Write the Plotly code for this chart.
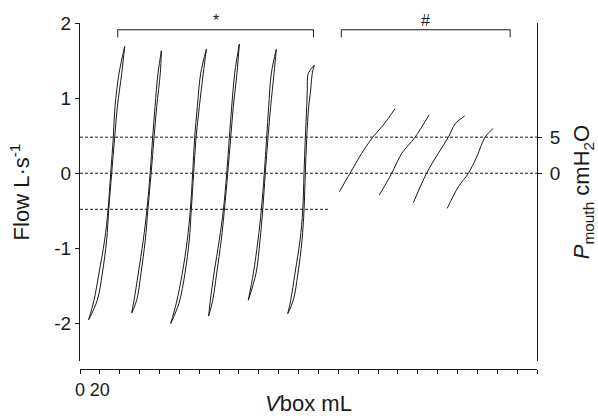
import plotly.graph_objects as go

# ---- data ----
# Flow-volume loops (Vbox mL, Flow L/s); path: bottom tip -> up -> top tip -> down -> bottom tip
loop1_vol = [8.7, 17.4, 22.5, 26.8, 28.9, 31.9, 34.9, 37.6, 42.0, 45.0, 39.3, 35.2, 33.5, 30.9, 28.2, 24.8, 19.1, 14.1, 8.7]
loop1_flow = [-1.95, -1.69, -1.33, -0.89, -0.49, 0.0, 0.47, 0.885, 1.33, 1.69, 1.33, 0.885, 0.47, 0.0, -0.49, -0.89, -1.33, -1.69, -1.95]

loop2_vol = [52.0, 57.1, 61.4, 65.7, 68.3, 71.6, 74.5, 77.2, 80.8, 81.9, 78.5, 75.5, 73.1, 70.6, 67.3, 63.7, 58.7, 54.4, 52.0]
loop2_flow = [-1.86, -1.69, -1.33, -0.89, -0.49, 0.0, 0.47, 0.885, 1.33, 1.63, 1.33, 0.885, 0.47, 0.0, -0.49, -0.89, -1.33, -1.69, -1.86]

loop3_vol = [91.3, 99.6, 105.7, 110.0, 112.0, 114.4, 116.8, 120.1, 124.1, 127.2, 121.5, 118.1, 115.4, 113.4, 111.0, 108.0, 103.0, 96.9, 91.3]
loop3_flow = [-2.0, -1.73, -1.33, -0.89, -0.49, 0.0, 0.47, 0.885, 1.33, 1.65, 1.33, 0.885, 0.47, 0.0, -0.49, -0.89, -1.33, -1.73, -2.0]

loop4_vol = [129.5, 133.6, 137.6, 142.2, 145.3, 148.7, 151.7, 154.3, 158.0, 160.4, 155.7, 152.7, 150.3, 147.7, 144.3, 140.2, 134.9, 131.2, 129.5]
loop4_flow = [-1.90, -1.69, -1.33, -0.89, -0.49, 0.0, 0.47, 0.885, 1.33, 1.72, 1.33, 0.885, 0.47, 0.0, -0.49, -0.89, -1.33, -1.69, -1.90]

loop5_vol = [169.4, 177.2, 181.2, 183.9, 186.5, 189.2, 191.9, 195.3, 197.6, 192.6, 189.9, 187.9, 185.5, 182.5, 179.2, 174.5, 169.4]
loop5_flow = [-1.69, -1.33, -0.89, -0.49, 0.0, 0.47, 0.885, 1.33, 1.65, 1.33, 0.885, 0.47, 0.0, -0.49, -0.89, -1.33, -1.69]

loop6_vol = [209.1, 214.7, 219.4, 223.5, 225.5, 226.8, 228.2, 230.2, 232.2, 233.8, 235.9, 229.8, 228.8, 228.2, 226.8, 225.5, 224.2, 221.5, 216.4, 212.1, 209.1]
loop6_flow = [-1.87, -1.69, -1.33, -0.89, -0.49, 0.0, 0.47, 0.885, 1.11, 1.33, 1.44, 1.33, 1.11, 0.885, 0.47, 0.0, -0.49, -0.89, -1.33, -1.69, -1.87]

# Occlusion manoeuvres (Vbox mL, Pmouth cmH2O)
occ1_vol = [261.0, 271.8, 283.5, 294.6, 305.3, 317.1]
occ1_p = [-2.57, 0.0, 2.76, 4.98, 6.69, 8.96]
occ2_vol = [301.3, 313.8, 323.9, 337.2, 351.3]
occ2_p = [-3.02, 0.0, 2.76, 4.98, 8.1]
occ3_vol = [335.5, 348.9, 360.6, 370.7, 378.0, 387.2]
occ3_p = [-4.09, 0.0, 2.76, 4.98, 6.92, 7.93]
occ4_vol = [369.6, 380.9, 391.0, 399.4, 407.6, 416.0]
occ4_p = [-4.87, -1.87, 0.0, 2.29, 4.98, 6.23]

# axis ticks
x_tickvals = list(range(0, 461, 20))
x_ticktext = ["0", "20"] + [""] * (len(x_tickvals) - 2)
y_tickvals = [-2, -1, 0, 1, 2]
y_ticktext = ["-2", "-1", "0", "1", "2"]
p_tickvals = [0, 5]
p_ticktext = ["0", "5"]

# reference levels (flow L/s) and brackets
ref_flow_levels = [0.48, 0.0, -0.48]
bracket_labels = ["*", "#"]
bracket_start = [38, 263]
bracket_end = [235, 433]

P_PER_FLOW = 5 / 0.48  # cmH2O per L/s on the shared vertical scale
FLOW_RANGE = [-2.5, 2.0]

FONT = "Liberation Sans Narrow, Arial Narrow, Liberation Sans, Arial, sans-serif"
INK = "#1a1a1a"

fig = go.Figure()

loops = [(loop1_vol, loop1_flow), (loop2_vol, loop2_flow), (loop3_vol, loop3_flow),
         (loop4_vol, loop4_flow), (loop5_vol, loop5_flow), (loop6_vol, loop6_flow)]
for vol, flow in loops:
    k = flow.index(max(flow))
    xs = vol[:k + 1] + [None] + vol[k:]
    ys = flow[:k + 1] + [None] + flow[k:]
    fig.add_trace(go.Scatter(x=xs, y=ys, mode="lines", connectgaps=False,
                             line=dict(color=INK, width=1, shape="spline", smoothing=1.0),
                             hoverinfo="skip", showlegend=False))

for vol, p in [(occ1_vol, occ1_p), (occ2_vol, occ2_p), (occ3_vol, occ3_p), (occ4_vol, occ4_p)]:
    fig.add_trace(go.Scatter(x=vol, y=p, yaxis="y2", mode="lines",
                             line=dict(color=INK, width=1, shape="spline", smoothing=1.0),
                             hoverinfo="skip", showlegend=False))

shapes = []
# dotted reference lines
for i, lvl in enumerate(ref_flow_levels):
    if i < 2:
        shapes.append(dict(type="line", xref="paper", x0=0, x1=1, yref="y", y0=lvl, y1=lvl,
                           line=dict(color=INK, width=1, dash="3px,2px")))
    else:
        shapes.append(dict(type="line", xref="x", x0=0, x1=250, yref="y", y0=lvl, y1=lvl,
                           line=dict(color=INK, width=1, dash="3px,2px")))
# brackets
BR_Y = 1.91
BR_DROP = 0.1
annotations = []
for lab, a, b in zip(bracket_labels, bracket_start, bracket_end):
    shapes.append(dict(type="path", xref="x", yref="y",
                       path=f"M{a},{BR_Y - BR_DROP} L{a},{BR_Y} L{b},{BR_Y} L{b},{BR_Y - BR_DROP}",
                       line=dict(color=INK, width=1)))
    annotations.append(dict(x=(a + b) / 2, y=BR_Y, xref="x", yref="y", text=lab,
                            showarrow=False, yanchor="bottom", yshift=-1,
                            font=dict(family=FONT, size=16, color=INK)))

fig.update_layout(
    width=598, height=416,
    margin=dict(l=80, r=61, t=23, b=47),
    paper_bgcolor="white", plot_bgcolor="white",
    font=dict(family=FONT, color=INK),
    shapes=shapes, annotations=annotations,
    xaxis=dict(range=[0, 460], anchor="free", position=0, showline=True, linecolor=INK,
               linewidth=1, ticks="outside", ticklen=4, tickcolor=INK, tickvals=x_tickvals,
               ticktext=x_ticktext, showgrid=False, zeroline=False, automargin=False,
               tickfont=dict(size=18),
               title=dict(text="<i>V</i>box mL", font=dict(size=22), standoff=11)),
    yaxis=dict(range=FLOW_RANGE, domain=[0.023, 1], showline=True, linecolor=INK,
               linewidth=1, ticks="outside", ticklen=4, tickcolor=INK, tickvals=y_tickvals,
               ticktext=y_ticktext, showgrid=False, zeroline=False, automargin=False,
               tickfont=dict(size=19),
               title=dict(text="Flow L·s<sup>-1</sup>", font=dict(size=22), standoff=18)),
    yaxis2=dict(range=[FLOW_RANGE[0] * P_PER_FLOW, FLOW_RANGE[1] * P_PER_FLOW],
                overlaying="y", side="right", anchor="x", showline=True, linecolor=INK,
                linewidth=1, ticks="outside", ticklen=4, tickcolor=INK, tickvals=p_tickvals,
                ticktext=p_ticktext, showgrid=False, zeroline=False, automargin=False,
                tickfont=dict(size=19), ticklabelstandoff=4,
                title=dict(text="<i>P</i><sub>mouth</sub> cmH<sub>2</sub>O", font=dict(size=22),
                           standoff=14)),
)

fig.write_html("out.html", config={"displayModeBar": False},
               post_script="document.body.style.margin='0';document.body.style.padding='0';"
                           "document.body.style.overflow='hidden';")
